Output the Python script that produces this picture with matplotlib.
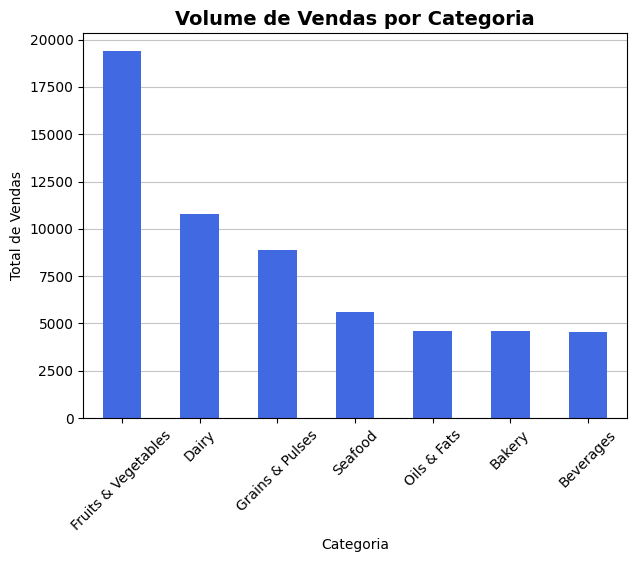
import matplotlib
matplotlib.use('Agg')
import matplotlib.pyplot as plt
import numpy as np

categories = ['Fruits & Vegetables', 'Dairy', 'Grains & Pulses', 'Seafood',
              'Oils & Fats', 'Bakery', 'Beverages']
sales = [19370, 10770, 8870, 5600, 4590, 4580, 4540]

fig, ax = plt.subplots(figsize=(6.35, 5.62), dpi=100)
fig.subplots_adjust(left=0.131, right=0.987, top=0.941, bottom=0.256)

x = np.arange(len(categories))
ax.bar(x, sales, width=0.5, color='royalblue', zorder=2)
ax.set_xticks(x)
ax.set_xticklabels(categories, rotation=45)
ax.set_xlim(-0.5, len(categories) - 0.5)
ax.grid(axis='y', alpha=0.75, zorder=0)
ax.set_title('Volume de Vendas por Categoria', fontsize=14, fontweight='bold')
ax.set_xlabel('Categoria')
ax.set_ylabel('Total de Vendas')

plt.savefig('out.png', dpi=100)
